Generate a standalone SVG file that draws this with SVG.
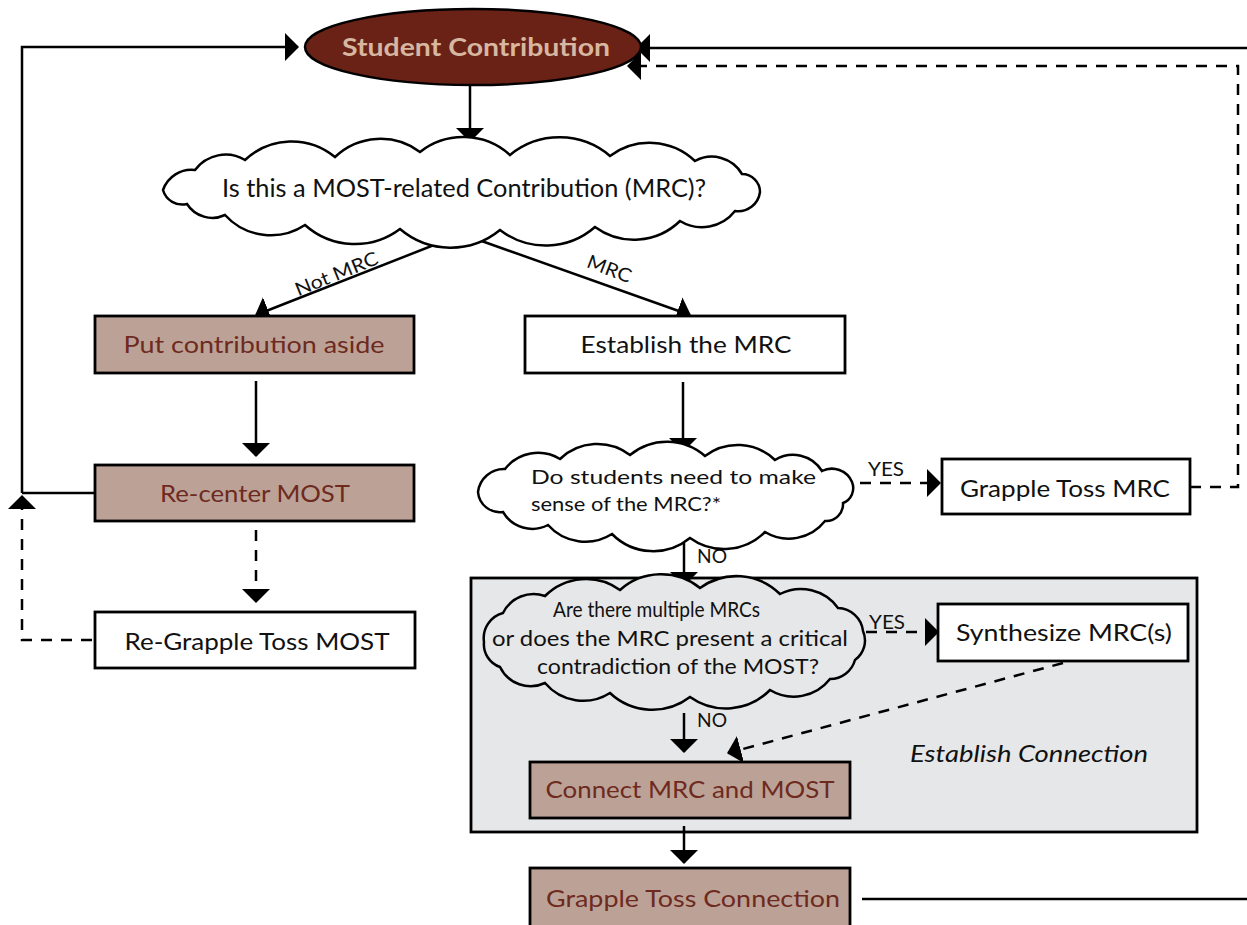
<svg xmlns="http://www.w3.org/2000/svg" width="1247" height="925" viewBox="0 0 1247 925">
<defs>
<marker id="ah" viewBox="0 0 14 28" markerWidth="14" markerHeight="28" refX="13" refY="14" orient="auto" markerUnits="userSpaceOnUse"><path d="M0,0 L14,14 L0,28 Z" fill="#000"/></marker>
<style>
.ln{fill:none;stroke:#000;stroke-width:2.5}
.ds{fill:none;stroke:#000;stroke-width:2.5;stroke-dasharray:11 9}
.box{fill:#fff;stroke:#000;stroke-width:2.8}
.tan{fill:#bca296;stroke:#000;stroke-width:2.8}
.cloud{fill:#fff;stroke:#000;stroke-width:2.5}
.t{font-family:Lato,"Liberation Sans",sans-serif;fill:#111}
.tt{font-family:Lato,"Liberation Sans",sans-serif;fill:#6e2a1f}
.lab{font-family:Lato,"Liberation Sans",sans-serif;fill:#111;font-size:19px}
</style>
</defs>
<rect width="1247" height="925" fill="#fff"/>

<g id="establish-connection-region">
<rect x="471" y="578" width="726" height="254" fill="#e6e7e8" stroke="#000" stroke-width="2.8"/>
<text class="t" x="910" y="762" font-size="24" font-style="italic" textLength="238" lengthAdjust="spacingAndGlyphs">Establish Connection</text>
</g>

<g id="connectors">
<path class="ln" d="M22,493 L22,47 L298,47" marker-end="url(#ah)"/>
<line class="ln" x1="95" y1="493" x2="22" y2="493"/>
<path class="ds" d="M92,640 L22,640 L22,496" marker-end="url(#ah)"/>
<path class="ln" d="M862,899 L1260,899 L1260,48 L637,48" marker-end="url(#ah)"/>
<path class="ds" d="M1190,487 L1238,487 L1238,66 L628,66" marker-end="url(#ah)"/>
<line class="ln" x1="470" y1="86" x2="470" y2="141" marker-end="url(#ah)"/>
<line class="ln" x1="462" y1="234" x2="256" y2="315" marker-end="url(#ah)"/>
<line class="ln" x1="462" y1="234" x2="690" y2="315" marker-end="url(#ah)"/>
<line class="ln" x1="256" y1="381" x2="256" y2="456" marker-end="url(#ah)"/>
<line class="ds" x1="256" y1="530" x2="256" y2="602" marker-end="url(#ah)"/>
<line class="ln" x1="683" y1="382" x2="683" y2="451" marker-end="url(#ah)"/>
<line class="ds" x1="860" y1="483" x2="940" y2="483" marker-end="url(#ah)"/>
<line class="ln" x1="684" y1="543" x2="684" y2="585" marker-end="url(#ah)"/>
<line class="ds" x1="866" y1="632" x2="938" y2="632" marker-end="url(#ah)"/>
<line class="ln" x1="684" y1="713" x2="684" y2="752" marker-end="url(#ah)"/>
<line class="ds" x1="1063" y1="663" x2="728" y2="753" marker-end="url(#ah)"/>
<line class="ln" x1="684" y1="826" x2="684" y2="863" marker-end="url(#ah)"/>
<text class="lab" transform="translate(339,280) rotate(-22)" text-anchor="middle" textLength="88" lengthAdjust="spacingAndGlyphs">Not MRC</text>
<text class="lab" transform="translate(607,275) rotate(21)" text-anchor="middle" textLength="46" lengthAdjust="spacingAndGlyphs">MRC</text>
<text class="lab" x="868" y="476" textLength="36" lengthAdjust="spacingAndGlyphs">YES</text>
<text class="lab" x="869" y="629" textLength="36" lengthAdjust="spacingAndGlyphs">YES</text>
<text class="lab" x="697" y="563" textLength="30" lengthAdjust="spacingAndGlyphs">NO</text>
<text class="lab" x="697" y="727" textLength="30" lengthAdjust="spacingAndGlyphs">NO</text>
</g>

<g id="student-contribution">
<ellipse cx="473" cy="47" rx="168" ry="38" fill="#6a2217" stroke="#000" stroke-width="2.5"/>
<text x="476" y="56" text-anchor="middle" font-family="Lato,'Liberation Sans',sans-serif" font-weight="bold" font-size="24" fill="#d8b7a1" textLength="268" lengthAdjust="spacingAndGlyphs">Student Contribution</text>
</g>

<g id="q-mrc">
<path class="cloud" d="M163,190 A30,30 0 0 1 195,170 A38,38 0 0 1 245,160 A68,68 0 0 1 335,157 A66,66 0 0 1 420,152 A70,70 0 0 1 510,155 A78,78 0 0 1 610,156 A66,66 0 0 1 695,161 A35,35 0 0 1 742,174 A18,18 0 0 1 760,192 A22,22 0 0 1 735,211 A42,42 0 0 1 680,221 A66,66 0 0 1 595,227 A75,75 0 0 1 500,230 A78,78 0 0 1 400,229 A75,75 0 0 1 305,225 A62,62 0 0 1 225,215 A30,30 0 0 1 187,204 A20,20 0 0 1 163,190 Z"/>
<text class="t" x="222" y="197" font-size="25" textLength="484" lengthAdjust="spacingAndGlyphs">Is this a MOST-related Contribution (MRC)?</text>
</g>

<g id="put-aside">
<rect class="tan" x="95" y="316" width="319" height="57"/>
<text class="tt" x="254" y="353" text-anchor="middle" font-size="24" textLength="261" lengthAdjust="spacingAndGlyphs">Put contribution aside</text>
</g>

<g id="establish-mrc">
<rect class="box" x="525" y="316" width="320" height="57"/>
<text class="t" x="686" y="353" text-anchor="middle" font-size="24" textLength="211" lengthAdjust="spacingAndGlyphs">Establish the MRC</text>
</g>

<g id="re-center">
<rect class="tan" x="95" y="465" width="319" height="56"/>
<text class="tt" x="255" y="502" text-anchor="middle" font-size="24" textLength="190" lengthAdjust="spacingAndGlyphs">Re-center MOST</text>
</g>

<g id="re-grapple">
<rect class="box" x="95" y="612" width="320" height="56"/>
<text class="t" x="257" y="650" text-anchor="middle" font-size="24" textLength="265" lengthAdjust="spacingAndGlyphs">Re-Grapple Toss MOST</text>
</g>

<g id="q-sense">
<path class="cloud" d="M478,492 A26,26 0 0 1 505,469 A42,42 0 0 1 560,459 A54,54 0 0 1 630,455 A58,58 0 0 1 705,456 A54,54 0 0 1 775,460 A34,34 0 0 1 822,471 A22,22 0 0 1 852,482 A16,16 0 0 1 843,503 A17,17 0 0 1 825,521 A46,46 0 0 1 765,532 A58,58 0 0 1 690,538 A58,58 0 0 1 612,534 A50,50 0 0 1 548,525 A34,34 0 0 1 503,512 A22,22 0 0 1 478,492 Z"/>
<text class="t" x="531" y="484" font-size="20" textLength="285" lengthAdjust="spacingAndGlyphs">Do students need to make</text>
<text class="t" x="531" y="511" font-size="20" textLength="190" lengthAdjust="spacingAndGlyphs">sense of the MRC?*</text>
</g>

<g id="grapple-mrc">
<rect class="box" x="942" y="459" width="248" height="55"/>
<text class="t" x="1065" y="497" text-anchor="middle" font-size="24" textLength="210" lengthAdjust="spacingAndGlyphs">Grapple Toss MRC</text>
</g>

<g id="q-multiple">
<path class="cloud" style="fill:#e6e7e8" d="M484,642 A26,26 0 0 1 503,613 A34,34 0 0 1 545,596 A58,58 0 0 1 620,590 A62,62 0 0 1 700,588 A62,62 0 0 1 780,594 A46,46 0 0 1 838,608 A26,26 0 0 1 863,631 A24,24 0 0 1 855,660 A26,26 0 0 1 830,679 A46,46 0 0 1 770,690 A62,62 0 0 1 690,697 A62,62 0 0 1 610,693 A50,50 0 0 1 545,683 A34,34 0 0 1 500,667 A24,24 0 0 1 484,642 Z"/>
<text class="t" x="553" y="617" font-size="21" textLength="207" lengthAdjust="spacingAndGlyphs">Are there multiple MRCs</text>
<text class="t" x="492" y="646" font-size="21" textLength="356" lengthAdjust="spacingAndGlyphs">or does the MRC present a critical</text>
<text class="t" x="537" y="674" font-size="21" textLength="282" lengthAdjust="spacingAndGlyphs">contradiction of the MOST?</text>
</g>

<g id="synthesize">
<rect class="box" x="938" y="604" width="250" height="57"/>
<text class="t" x="1064" y="641" text-anchor="middle" font-size="24" textLength="216" lengthAdjust="spacingAndGlyphs">Synthesize MRC(s)</text>
</g>

<g id="connect">
<rect class="tan" x="530" y="762" width="320" height="56"/>
<text class="tt" x="690" y="798" text-anchor="middle" font-size="24" textLength="289" lengthAdjust="spacingAndGlyphs">Connect MRC and MOST</text>
</g>

<g id="grapple-connection">
<rect class="tan" x="530" y="868" width="320" height="70"/>
<text class="tt" x="693" y="907" text-anchor="middle" font-size="24" textLength="294" lengthAdjust="spacingAndGlyphs">Grapple Toss Connection</text>
</g>
</svg>
